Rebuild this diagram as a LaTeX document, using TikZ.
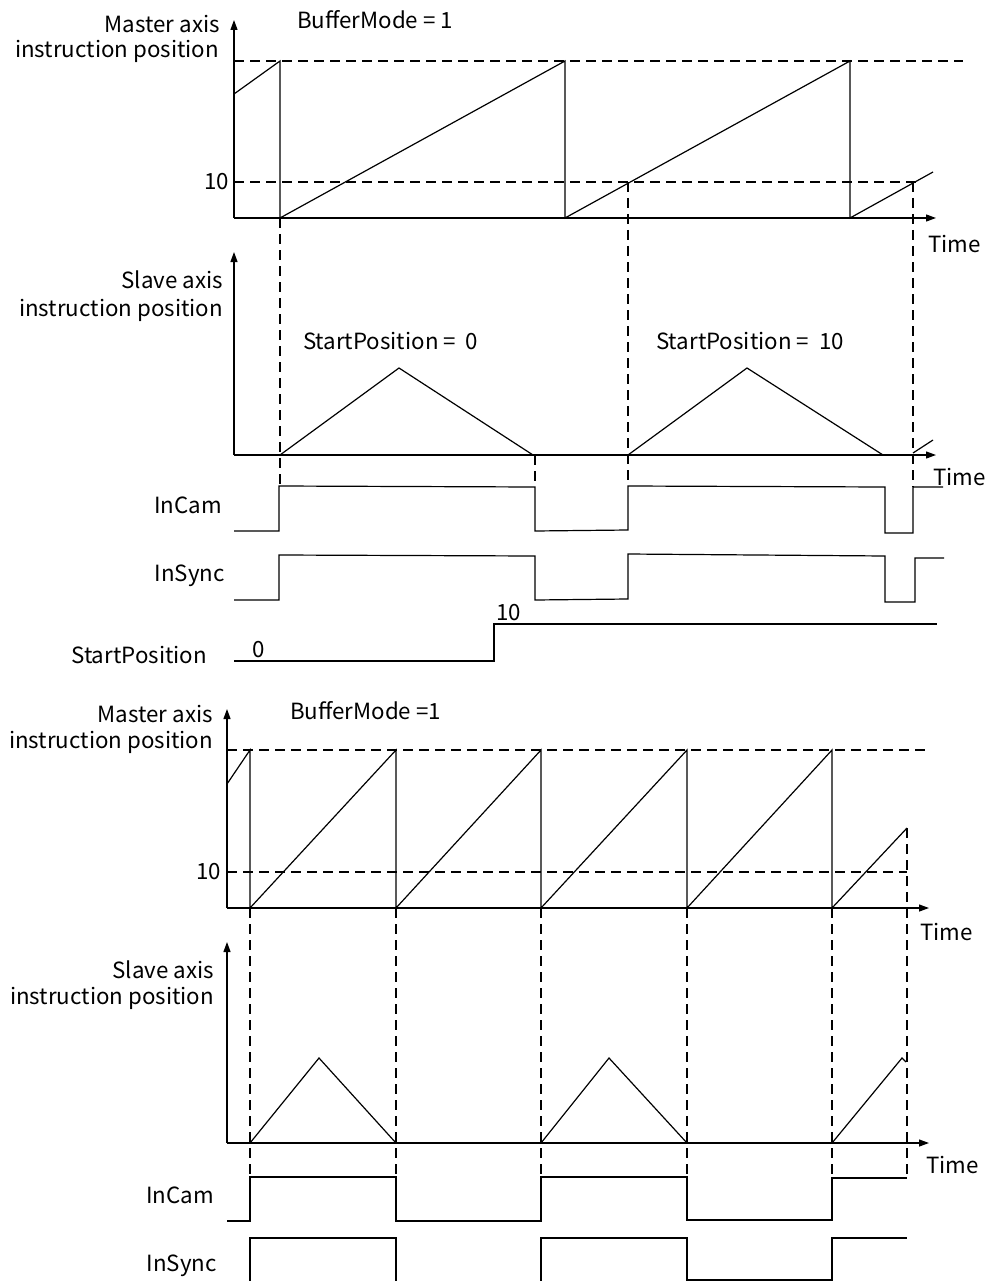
\documentclass[tikz,border=0pt]{standalone}
\usepackage{fontspec}
\setmainfont{Noto Sans CJK SC}
\usetikzlibrary{arrows.meta}
\begin{document}
\begin{tikzpicture}[x=1pt,y=-1pt,
  every node/.style={font=\fontsize{22.3}{26}\selectfont, inner sep=0pt},
  sig/.style={line width=1.2pt, line join=miter},
  axis/.style={line width=1.2pt, -{Triangle[length=10pt,width=7pt]}},
  guide/.style={line width=1.1pt, dash pattern=on 10pt off 6pt}]
\useasboundingbox[fill=white] (0,0) rectangle (990,1281);
\clip (0,0) rectangle (990,1281);

% ================= Panel 1: master axis (top) =================
\draw[axis] (234,218) -- (234,20);
\draw[axis] (234,218) -- (936,218);
\draw[guide] (234,61) -- (963,61);
\draw[guide] (234,182) -- (917,182);
\draw[sig] (234,94) -- (280,61) -- (280,218) -- (565,61) -- (565,218) -- (850,61) -- (850,218) -- (933,172);
\node[anchor=base east] (m1a) at (220,33) {Master axis};
\node[anchor=base east] (m1b) at (219,58) {instruction position};
\node[anchor=base west] (bm1) at (297,29) {BufferMode = 1};
\node[anchor=east] (t10a) at (229,182) {10};
\node[anchor=base west] (time1) at (928,252) {Time};

% guides
\draw[guide] (280,218) -- (280,486);
\draw[guide] (628,182) -- (628,486);
\draw[guide] (535,455) -- (535,487);
\draw[guide] (913,182) -- (913,487);

% ================= Panel 2: slave axis (top) =================
\draw[axis] (234,455) -- (234,252);
\draw[axis] (234,455) -- (936,455);
\draw[sig] (280,455) -- (399,368) -- (533,455);
\draw[sig] (628,455) -- (747,368) -- (883,455);
\draw[sig] (913,453) -- (933,440);
\node[anchor=base east] (s1a) at (223,288) {Slave axis};
\node[anchor=base east] (s1b) at (223,316) {instruction position};
\node[anchor=base west] (sp0) at (303,349) {StartPosition =\ \ 0};
\node[anchor=base west] (sp10) at (656,349) {StartPosition =\ \ 10};
\node[anchor=base west] (time2) at (933,485) {Time};

% InCam
\node[anchor=base east] (incam1) at (222,513) {InCam};
\draw[sig] (234,531) -- (279,531) -- (279,486) -- (535,487) -- (535,531) -- (628,530) -- (628,486) -- (885,487) -- (885,533) -- (913,533) -- (913,487) -- (943,487);
% InSync
\node[anchor=base east] (insync1) at (225,581) {InSync};
\draw[sig] (234,600) -- (279,600) -- (279,555) -- (535,556) -- (535,600) -- (628,599) -- (628,554) -- (885,556) -- (885,602) -- (915,602) -- (915,558) -- (944,558);
% StartPosition
\node[anchor=base east] (spl) at (207,663) {StartPosition};
\draw[sig] (234,661) -- (494,661) -- (494,624) -- (937,624);
\node[anchor=base west] (sv0) at (252,657) {0};
\node[anchor=base west] (sv10) at (496,620) {10};

% ================= Panel 3: master axis (bottom) =================
\draw[axis] (227,908) -- (227,709);
\draw[axis] (227,908) -- (929,908);
\draw[guide] (227,750) -- (928,750);
\draw[guide] (227,872) -- (907,872);
\draw[sig] (227,784) -- (250,750) -- (250,908) -- (396,750) -- (396,908) -- (541,750) -- (541,908) -- (687,750) -- (687,908) -- (832,750) -- (832,908) -- (907,828);
\node[anchor=base east] (m2a) at (213,722) {Master axis};
\node[anchor=base east] (m2b) at (213,748) {instruction position};
\node[anchor=base west] (bm2) at (290,719) {BufferMode =1};
\node[anchor=east] (t10b) at (221,872) {10};
\node[anchor=base west] (time3) at (920,940) {Time};

\foreach \xx in {250,396,541,687,832} {
  \draw[guide] (\xx,908) -- (\xx,1177);
}
\draw[guide] (907,828) -- (907,1178);

% ================= Panel 4: slave axis (bottom) =================
\draw[axis] (227,1143) -- (227,942);
\draw[axis] (227,1143) -- (929,1143);
\draw[sig] (250,1143) -- (319,1058) -- (396,1143);
\draw[sig] (541,1143) -- (609,1058) -- (687,1143);
\draw[sig] (832,1143) -- (902,1058) -- (906,1062);
\node[anchor=base east] (s2a) at (214,978) {Slave axis};
\node[anchor=base east] (s2b) at (214,1004) {instruction position};
\node[anchor=base west] (time4) at (926,1173) {Time};

% InCam
\node[anchor=base east] (incam2) at (214,1203) {InCam};
\draw[sig] (227,1221) -- (250,1221) -- (250,1177) -- (396,1177) -- (396,1221) -- (541,1221) -- (541,1177) -- (687,1177) -- (687,1220) -- (832,1220) -- (832,1178) -- (907,1178);
% InSync
\node[anchor=base east] (insync2) at (217,1271) {InSync};
\draw[sig] (250,1284) -- (250,1238) -- (396,1238) -- (396,1284) -- (541,1284) -- (541,1238) -- (687,1238) -- (687,1280) -- (832,1280) -- (832,1238) -- (907,1238);
\end{tikzpicture}
\end{document}
